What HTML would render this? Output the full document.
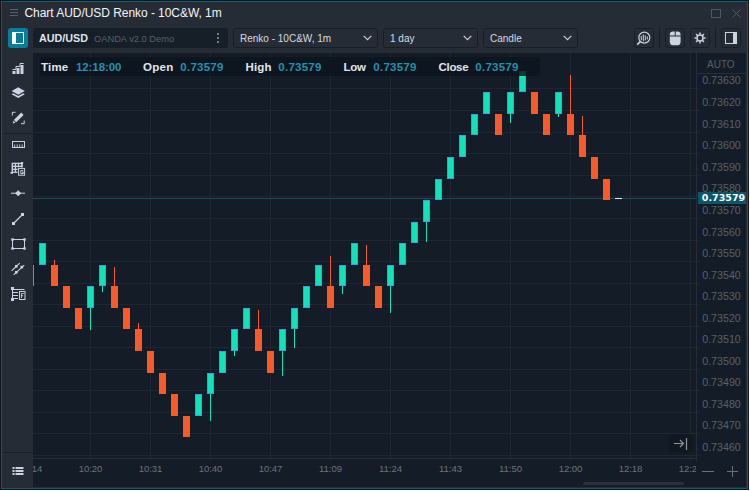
<!DOCTYPE html>
<html><head><meta charset="utf-8"><title>Chart AUD/USD Renko</title>
<style>
html,body{margin:0;padding:0;background:#fff;}
body{width:750px;height:491px;overflow:hidden;position:relative;font-family:"Liberation Sans",sans-serif;}
#win{position:absolute;left:0;top:0;width:749px;height:490px;background:#0f141a;}
#frame{position:absolute;left:1px;top:1px;width:747px;height:488px;background:#075f75;}
#panel{position:absolute;left:2px;top:2px;width:745px;height:486px;background:#262c35;}
.abs{position:absolute;}
#title{position:absolute;left:24.5px;top:4px;font-size:12px;line-height:18px;color:#f2f5f8;white-space:nowrap;letter-spacing:-0.05px;}
#chart{position:absolute;left:33px;top:53px;width:713px;height:434px;background:#141d27;overflow:hidden;}
#chartsvg{position:absolute;left:-33px;top:-53px;}
.pl{position:absolute;left:697px;width:49px;text-align:center;font-size:10.67px;line-height:14px;color:#596069;white-space:nowrap;}
#tlwrap{position:absolute;left:33px;top:459px;width:663px;height:22px;overflow:hidden;}
.tl{position:absolute;top:3px;width:40px;margin-left:-33px;text-align:center;font-size:9.6px;letter-spacing:-0.1px;line-height:14px;color:#6a727b;white-space:nowrap;}
.field{position:absolute;top:28px;height:20px;background:#161e28;border-radius:3px;}
.dd{position:absolute;top:28px;height:18px;border:1px solid #161e28;border-radius:3px;background:#262c35;font-size:10px;line-height:18px;color:#d4dae2;white-space:nowrap;}
.dd span{position:absolute;left:6px;top:1px;}
.btn{position:absolute;top:28px;width:18px;height:18px;border:1px solid #161e28;border-radius:3px;}
.sep{position:absolute;top:28px;width:1px;height:20px;background:#161e28;}
#info{position:absolute;left:40px;top:57px;width:500px;height:19px;background:rgba(12,20,29,0.82);border-radius:4px;}
.il{position:absolute;top:60px;font-size:11.5px;line-height:14px;font-weight:bold;color:#e0e6ec;white-space:nowrap;}
.iv{position:absolute;top:60px;font-size:11.5px;line-height:14px;font-weight:bold;color:#2590ac;white-space:nowrap;}
</style></head><body>
<div id="win"><div id="frame"></div><div id="panel"></div>

<!-- title bar -->
<svg class="abs" style="left:9px;top:8px" width="10" height="9"><path d="M1 1.5h8M1 4.5h8M1 7.5h8" stroke="#585f68" stroke-width="1"/></svg>
<div id="title">Chart AUD/USD Renko - 10C&amp;W, 1m</div>
<svg class="abs" style="left:710px;top:8px" width="32" height="11"><rect x="1.5" y="1.5" width="9" height="8" fill="none" stroke="#4f565f"/><path d="M22.5 1.5l8 8M30.5 1.5l-8 8" stroke="#535a63" stroke-width="1"/></svg>

<!-- toolbar -->
<div class="abs" style="left:8px;top:28px;width:20px;height:20px;background:#067f9c;border-radius:3px;"></div>
<svg class="abs" style="left:8px;top:28px" width="20" height="20"><rect x="4.5" y="4.5" width="11" height="11" fill="#077a9c" stroke="#fff"/><rect x="4" y="4" width="4" height="12" fill="#fff"/></svg>
<div class="field" style="left:33px;width:195px;"></div>
<div class="abs" style="left:39px;top:31px;font-size:10.75px;line-height:14px;font-weight:bold;color:#dfe5ec;white-space:nowrap;" id="sym">AUD/USD</div>
<div class="abs" style="left:94px;top:31.5px;font-size:9.3px;line-height:14px;color:#57606a;white-space:nowrap;" id="brk">OANDA v2.0 Demo</div>
<svg class="abs" style="left:217px;top:33px" width="2" height="11"><rect x="0" y="0" width="2" height="2" fill="#747b84"/><rect x="0" y="4" width="2" height="2" fill="#747b84"/><rect x="0" y="8" width="2" height="2" fill="#747b84"/></svg>

<div class="dd" style="left:233px;width:143px;"><span id="dd1">Renko - 10C&amp;W, 1m</span></div>
<div class="dd" style="left:383px;width:93px;"><span id="dd2">1 day</span></div>
<div class="dd" style="left:483px;width:93px;"><span id="dd3">Candle</span></div>
<svg class="abs" style="left:363px;top:35px" width="9" height="6"><path d="M0.7 0.8L4.5 4.6L8.3 0.8" fill="none" stroke="#c8d0d8" stroke-width="1.2"/></svg>
<svg class="abs" style="left:463px;top:35px" width="9" height="6"><path d="M0.7 0.8L4.5 4.6L8.3 0.8" fill="none" stroke="#c8d0d8" stroke-width="1.2"/></svg>
<svg class="abs" style="left:563px;top:35px" width="9" height="6"><path d="M0.7 0.8L4.5 4.6L8.3 0.8" fill="none" stroke="#c8d0d8" stroke-width="1.2"/></svg>

<div class="btn" style="left:634px;"></div>
<div class="sep" style="left:659px;"></div>
<div class="btn" style="left:665px;"></div>
<div class="btn" style="left:690px;"></div>
<div class="sep" style="left:715px;"></div>
<div class="btn" style="left:721px;"></div>

<svg class="abs" style="left:634px;top:28px" width="110" height="20" fill="#ccd4e2">
<!-- magnifier -->
<circle cx="10.3" cy="9.6" r="5.5" fill="none" stroke="#ccd4e2" stroke-width="1.2"/>
<path d="M6.2 13.6L3.2 16.6" stroke="#ccd4e2" stroke-width="1.6" fill="none"/>
<path d="M7.3 8v4M9.3 6.4v6.8M11.3 7.5v5M13.3 8.5v3" stroke="#ccd4e2" stroke-width="1" fill="none"/>
<!-- mouse -->
<path d="M35.8 7.4V6.7A3.4 3.2 0 0 1 39.2 3.5H40.7V7.4ZM41.7 3.5H43.2A3.4 3.2 0 0 1 46.6 6.7V7.4H41.7Z"/>
<path d="M35.8 8.5H46.6V13.4A3.9 3.9 0 0 1 42.7 17.3H39.7A3.9 3.9 0 0 1 35.8 13.4Z"/>
<!-- gear -->
<g transform="translate(66,10)">
<circle r="3" fill="none" stroke="#ccd4e2" stroke-width="1.5"/>
<g stroke="#ccd4e2" stroke-width="1.5" fill="none">
<path d="M0 -5.5v2M0 5.5v-2M-5.5 0h2M5.5 0h-2M-3.9 -3.9l1.4 1.4M3.9 3.9l-1.4 -1.4M-3.9 3.9l1.4 -1.4M3.9 -3.9l-1.4 1.4"/>
</g>
</g>
<!-- panel right -->
<rect x="91.5" y="4.5" width="11" height="11" fill="none" stroke="#ccd4e2" stroke-width="1"/>
<rect x="99" y="4" width="4" height="12"/>
</svg>


<!-- chart -->
<div id="chart"><svg id="chartsvg" width="749" height="490" shape-rendering="crispEdges">
<rect x="33" y="88" width="667" height="1" fill="#1e2731"/>
<rect x="33" y="110" width="667" height="1" fill="#1e2731"/>
<rect x="33" y="132" width="667" height="1" fill="#1e2731"/>
<rect x="33" y="153" width="667" height="1" fill="#1e2731"/>
<rect x="33" y="175" width="667" height="1" fill="#1e2731"/>
<rect x="33" y="196" width="667" height="1" fill="#1e2731"/>
<rect x="33" y="218" width="667" height="1" fill="#1e2731"/>
<rect x="33" y="240" width="667" height="1" fill="#1e2731"/>
<rect x="33" y="261" width="667" height="1" fill="#1e2731"/>
<rect x="33" y="283" width="667" height="1" fill="#1e2731"/>
<rect x="33" y="304" width="667" height="1" fill="#1e2731"/>
<rect x="33" y="326" width="667" height="1" fill="#1e2731"/>
<rect x="33" y="347" width="667" height="1" fill="#1e2731"/>
<rect x="33" y="369" width="667" height="1" fill="#1e2731"/>
<rect x="33" y="390" width="667" height="1" fill="#1e2731"/>
<rect x="33" y="412" width="667" height="1" fill="#1e2731"/>
<rect x="33" y="433" width="667" height="1" fill="#1e2731"/>
<rect x="33" y="455" width="667" height="1" fill="#1e2731"/>
<line x1="90.5" y1="53" x2="90.5" y2="461" stroke="#1e2731"/>
<line x1="150.5" y1="53" x2="150.5" y2="461" stroke="#1e2731"/>
<line x1="210.5" y1="53" x2="210.5" y2="461" stroke="#1e2731"/>
<line x1="270.5" y1="53" x2="270.5" y2="461" stroke="#1e2731"/>
<line x1="330.5" y1="53" x2="330.5" y2="461" stroke="#1e2731"/>
<line x1="390.5" y1="53" x2="390.5" y2="461" stroke="#1e2731"/>
<line x1="450.5" y1="53" x2="450.5" y2="461" stroke="#1e2731"/>
<line x1="510.5" y1="53" x2="510.5" y2="461" stroke="#1e2731"/>
<line x1="570.5" y1="53" x2="570.5" y2="461" stroke="#1e2731"/>
<line x1="630.5" y1="53" x2="630.5" y2="461" stroke="#1e2731"/>
<line x1="690.5" y1="53" x2="690.5" y2="461" stroke="#1e2731"/>
<line x1="696.5" y1="53" x2="696.5" y2="461" stroke="#242d38"/>
<line x1="33" y1="458.5" x2="696.5" y2="458.5" stroke="#242d38"/>
<line x1="696.5" y1="73.5" x2="746" y2="73.5" stroke="#242d38"/>
<rect x="33" y="198" width="663" height="1" fill="#1a4d54"/>
<rect x="27" y="265" width="7" height="21" fill="#3a9fe8"/>
<rect x="28" y="266" width="5" height="19" fill="#12e2b8"/>
<rect x="39" y="243" width="7" height="22" fill="#3a9fe8"/>
<rect x="40" y="244" width="5" height="20" fill="#12e2b8"/>
<rect x="54.0" y="260" width="1" height="5" fill="#fa5a28"/>
<rect x="51" y="265" width="7" height="21" fill="#fa5a28"/>
<rect x="63" y="286" width="7" height="22" fill="#fa5a28"/>
<rect x="75" y="308" width="7" height="21" fill="#fa5a28"/>
<rect x="90.0" y="308" width="1" height="22" fill="#12e2b8"/>
<rect x="87" y="286" width="7" height="22" fill="#3a9fe8"/>
<rect x="88" y="287" width="5" height="20" fill="#12e2b8"/>
<rect x="102.0" y="286" width="1" height="6" fill="#12e2b8"/>
<rect x="99" y="265" width="7" height="21" fill="#3a9fe8"/>
<rect x="100" y="266" width="5" height="19" fill="#12e2b8"/>
<rect x="114.0" y="267" width="1" height="19" fill="#fa5a28"/>
<rect x="111" y="286" width="7" height="22" fill="#fa5a28"/>
<rect x="123" y="308" width="7" height="21" fill="#fa5a28"/>
<rect x="138.0" y="323" width="1" height="6" fill="#fa5a28"/>
<rect x="135" y="329" width="7" height="22" fill="#fa5a28"/>
<rect x="147" y="351" width="7" height="22" fill="#fa5a28"/>
<rect x="159" y="373" width="7" height="21" fill="#fa5a28"/>
<rect x="171" y="394" width="7" height="22" fill="#fa5a28"/>
<rect x="183" y="416" width="7" height="21" fill="#fa5a28"/>
<rect x="195" y="394" width="7" height="22" fill="#3a9fe8"/>
<rect x="196" y="395" width="5" height="20" fill="#12e2b8"/>
<rect x="210.0" y="394" width="1" height="27" fill="#12e2b8"/>
<rect x="207" y="373" width="7" height="21" fill="#3a9fe8"/>
<rect x="208" y="374" width="5" height="19" fill="#12e2b8"/>
<rect x="219" y="351" width="7" height="22" fill="#3a9fe8"/>
<rect x="220" y="352" width="5" height="20" fill="#12e2b8"/>
<rect x="234.0" y="351" width="1" height="5" fill="#12e2b8"/>
<rect x="231" y="329" width="7" height="22" fill="#3a9fe8"/>
<rect x="232" y="330" width="5" height="20" fill="#12e2b8"/>
<rect x="243" y="308" width="7" height="21" fill="#3a9fe8"/>
<rect x="244" y="309" width="5" height="19" fill="#12e2b8"/>
<rect x="258.0" y="310" width="1" height="19" fill="#fa5a28"/>
<rect x="255" y="329" width="7" height="22" fill="#fa5a28"/>
<rect x="267" y="351" width="7" height="22" fill="#fa5a28"/>
<rect x="282.0" y="351" width="1" height="25" fill="#12e2b8"/>
<rect x="279" y="329" width="7" height="22" fill="#3a9fe8"/>
<rect x="280" y="330" width="5" height="20" fill="#12e2b8"/>
<rect x="294.0" y="329" width="1" height="19" fill="#12e2b8"/>
<rect x="291" y="308" width="7" height="21" fill="#3a9fe8"/>
<rect x="292" y="309" width="5" height="19" fill="#12e2b8"/>
<rect x="303" y="286" width="7" height="22" fill="#3a9fe8"/>
<rect x="304" y="287" width="5" height="20" fill="#12e2b8"/>
<rect x="315" y="265" width="7" height="21" fill="#3a9fe8"/>
<rect x="316" y="266" width="5" height="19" fill="#12e2b8"/>
<rect x="330.0" y="256" width="1" height="30" fill="#fa5a28"/>
<rect x="327" y="286" width="7" height="22" fill="#fa5a28"/>
<rect x="342.0" y="286" width="1" height="8" fill="#12e2b8"/>
<rect x="339" y="265" width="7" height="21" fill="#3a9fe8"/>
<rect x="340" y="266" width="5" height="19" fill="#12e2b8"/>
<rect x="351" y="243" width="7" height="22" fill="#3a9fe8"/>
<rect x="352" y="244" width="5" height="20" fill="#12e2b8"/>
<rect x="366.0" y="245" width="1" height="20" fill="#fa5a28"/>
<rect x="363" y="265" width="7" height="21" fill="#fa5a28"/>
<rect x="375" y="286" width="7" height="22" fill="#fa5a28"/>
<rect x="390.0" y="286" width="1" height="27" fill="#12e2b8"/>
<rect x="387" y="265" width="7" height="21" fill="#3a9fe8"/>
<rect x="388" y="266" width="5" height="19" fill="#12e2b8"/>
<rect x="399" y="243" width="7" height="22" fill="#3a9fe8"/>
<rect x="400" y="244" width="5" height="20" fill="#12e2b8"/>
<rect x="411" y="222" width="7" height="21" fill="#3a9fe8"/>
<rect x="412" y="223" width="5" height="19" fill="#12e2b8"/>
<rect x="426.0" y="222" width="1" height="20" fill="#12e2b8"/>
<rect x="423" y="200" width="7" height="22" fill="#3a9fe8"/>
<rect x="424" y="201" width="5" height="20" fill="#12e2b8"/>
<rect x="435" y="179" width="7" height="21" fill="#3a9fe8"/>
<rect x="436" y="180" width="5" height="19" fill="#12e2b8"/>
<rect x="447" y="157" width="7" height="22" fill="#3a9fe8"/>
<rect x="448" y="158" width="5" height="20" fill="#12e2b8"/>
<rect x="459" y="135" width="7" height="22" fill="#3a9fe8"/>
<rect x="460" y="136" width="5" height="20" fill="#12e2b8"/>
<rect x="471" y="114" width="7" height="21" fill="#3a9fe8"/>
<rect x="472" y="115" width="5" height="19" fill="#12e2b8"/>
<rect x="483" y="92" width="7" height="22" fill="#3a9fe8"/>
<rect x="484" y="93" width="5" height="20" fill="#12e2b8"/>
<rect x="495" y="114" width="7" height="21" fill="#fa5a28"/>
<rect x="510.0" y="114" width="1" height="9" fill="#12e2b8"/>
<rect x="507" y="92" width="7" height="22" fill="#3a9fe8"/>
<rect x="508" y="93" width="5" height="20" fill="#12e2b8"/>
<rect x="519" y="71" width="7" height="21" fill="#3a9fe8"/>
<rect x="520" y="72" width="5" height="19" fill="#12e2b8"/>
<rect x="531" y="92" width="7" height="22" fill="#fa5a28"/>
<rect x="543" y="114" width="7" height="21" fill="#fa5a28"/>
<rect x="558.0" y="114" width="1" height="3" fill="#12e2b8"/>
<rect x="555" y="92" width="7" height="22" fill="#3a9fe8"/>
<rect x="556" y="93" width="5" height="20" fill="#12e2b8"/>
<rect x="570.0" y="75" width="1" height="39" fill="#fa5a28"/>
<rect x="567" y="114" width="7" height="21" fill="#fa5a28"/>
<rect x="582.0" y="116" width="1" height="19" fill="#fa5a28"/>
<rect x="579" y="135" width="7" height="22" fill="#fa5a28"/>
<rect x="591" y="157" width="7" height="22" fill="#fa5a28"/>
<rect x="603" y="179" width="7" height="21" fill="#fa5a28"/>
<rect x="615" y="198" width="7" height="1" fill="#e8ecf0"/>
</svg></div>
<div id="info"></div>
<div class="il" style="left:41px;letter-spacing:0.2px" id="l1">Time</div><div class="iv" style="left:76px;letter-spacing:-0.09px" id="v1">12:18:00</div>
<div class="il" style="left:143px;letter-spacing:0.28px" id="l2">Open</div><div class="iv" style="left:180.3px;letter-spacing:0.26px" id="v2">0.73579</div>
<div class="il" style="left:245.5px;letter-spacing:0.12px" id="l3">High</div><div class="iv" style="left:278.3px;letter-spacing:0.26px" id="v3">0.73579</div>
<div class="il" style="left:343.5px;letter-spacing:-0.23px" id="l4">Low</div><div class="iv" style="left:373.3px;letter-spacing:0.26px" id="v4">0.73579</div>
<div class="il" style="left:438.5px;letter-spacing:-0.3px" id="l5">Close</div><div class="iv" style="left:475.3px;letter-spacing:0.26px" id="v5">0.73579</div>

<!-- price axis -->
<div class="pl" style="top:58px;left:696.3px;font-size:10px;color:#565e67" id="auto">AUTO</div>
<div class="pl" style="top:73px">0.73630</div>
<div class="pl" style="top:95px">0.73620</div>
<div class="pl" style="top:117px">0.73610</div>
<div class="pl" style="top:138px">0.73600</div>
<div class="pl" style="top:160px">0.73590</div>
<div class="pl" style="top:181px">0.73580</div>
<div class="pl" style="top:203px">0.73570</div>
<div class="pl" style="top:225px">0.73560</div>
<div class="pl" style="top:246px">0.73550</div>
<div class="pl" style="top:268px">0.73540</div>
<div class="pl" style="top:289px">0.73530</div>
<div class="pl" style="top:311px">0.73520</div>
<div class="pl" style="top:332px">0.73510</div>
<div class="pl" style="top:354px">0.73500</div>
<div class="pl" style="top:375px">0.73490</div>
<div class="pl" style="top:397px">0.73480</div>
<div class="pl" style="top:418px">0.73470</div>
<div class="pl" style="top:440px">0.73460</div>
<div class="abs" style="left:698px;top:192px;width:48px;height:12px;background:#0b566b;"></div>
<div class="abs" id="cur" style="left:699.5px;top:191px;width:48px;text-align:center;font-size:9.5px;line-height:14px;font-weight:bold;color:#fff;font-family:'DejaVu Sans','Liberation Sans',sans-serif;white-space:nowrap;">0.73579</div>

<!-- time axis -->
<div id="tlwrap">
<div class="tl" style="left:10.5px">10:14</div>
<div class="tl" style="left:70.5px">10:20</div>
<div class="tl" style="left:130.5px">10:31</div>
<div class="tl" style="left:190.5px">10:40</div>
<div class="tl" style="left:250.5px">10:47</div>
<div class="tl" style="left:310.5px">11:09</div>
<div class="tl" style="left:370.5px">11:24</div>
<div class="tl" style="left:430.5px">11:43</div>
<div class="tl" style="left:490.5px">11:50</div>
<div class="tl" style="left:550.5px">12:00</div>
<div class="tl" style="left:610.5px">12:18</div>
<div class="tl" style="left:670.5px">12:24</div>
</div>
<svg class="abs" style="left:700px;top:465px" width="40" height="14"><path d="M2 6.5h12M27 6.5h11M32.5 1v11" stroke="#6a727b" stroke-width="1" fill="none"/></svg>
<div class="abs" style="left:583px;top:482px;width:101px;height:3px;background:#2a313a;border-radius:2px;"></div>
<div class="abs" style="left:669px;top:434px;width:24px;height:19px;background:#11181f;border-radius:4px;"></div>
<svg class="abs" style="left:669px;top:434px" width="24" height="19"><path d="M5 9.5h9M11 6l3.5 3.5L11 13M17.5 4v12" stroke="#8d949c" stroke-width="1.2" fill="none"/></svg>

<!-- left sidebar -->
<div class="abs" style="left:3px;top:133px;width:30px;height:1px;background:#171f29;"></div>
<div class="abs" style="left:3px;top:452px;width:30px;height:1px;background:#171f29;"></div>

<svg class="abs" style="left:0;top:0" width="34" height="490" fill="#ccd4e2" stroke="none">
<!-- bars -->
<rect x="12.5" y="71" width="3" height="3"/><rect x="16.5" y="68" width="3" height="6"/><rect x="20.5" y="65" width="3" height="9"/>
<path d="M12.5 69.5H16V66.5H20V63.5H23.7" fill="none" stroke="#ccd4e2" stroke-width="1"/>
<!-- layers -->
<path d="M18.2 87.3L24.8 91L18.2 94.7L11.6 91Z"/>
<path d="M11.6 94.2L18.2 97.9L24.8 94.2L23.3 93.3L18.2 96.1L13.1 93.3Z"/>
<!-- pencil w/ brackets -->
<path d="M12.3 115.5v-3.2h3.2M24.2 120.5v3.2h-3.2" fill="none" stroke="#ccd4e2" stroke-width="1"/>
<path d="M21.3 112.6L23.6 114.9L16.2 122.3L13.9 120Z"/>
<path d="M13.4 120.7L15.5 122.8L12.8 123.4Z"/>
<!-- ruler -->
<rect x="12.5" y="141.5" width="12" height="6" fill="none" stroke="#ccd4e2" stroke-width="1"/>
<path d="M14.7 147v-2.6M17.2 147v-2.6M19.7 147v-2.6M22.2 147v-2.6" stroke="#ccd4e2" stroke-width="0.9" fill="none"/>
<!-- grid G -->
<rect x="11.6" y="162.7" width="11.2" height="10.2"/>
<rect x="13.0" y="164.0" width="1.8" height="1.7" fill="#262c35"/><rect x="13.0" y="167.0" width="1.8" height="1.7" fill="#262c35"/><rect x="13.0" y="170.0" width="1.8" height="1.7" fill="#262c35"/><rect x="16.1" y="164.0" width="1.8" height="1.7" fill="#262c35"/><rect x="16.1" y="167.0" width="1.8" height="1.7" fill="#262c35"/><rect x="16.1" y="170.0" width="1.8" height="1.7" fill="#262c35"/><rect x="19.1" y="164.0" width="1.8" height="1.7" fill="#262c35"/><rect x="19.1" y="167.0" width="1.8" height="1.7" fill="#262c35"/><rect x="19.1" y="170.0" width="1.8" height="1.7" fill="#262c35"/>
<rect x="10.5" y="172" width="2.4" height="1.8"/><rect x="21" y="162" width="2.2" height="1.7"/>
<rect x="17.6" y="167.4" width="7.6" height="8.4" fill="#262c35"/>
<rect x="18.6" y="168.4" width="6" height="6.8" fill="none" stroke="#ccd4e2" stroke-width="1"/>
<path d="M23.3 170.6h-2.5v3h2.5v-1.5h-1.2" fill="none" stroke="#ccd4e2" stroke-width="1"/>
<!-- hline diamond -->
<rect x="11" y="192.7" width="14" height="1"/>
<path d="M18.2 190.2L21.2 193.2L18.2 196.2L15.2 193.2Z"/>
<!-- line with endpoints -->
<path d="M13.5 223.5L22.5 214.5" stroke="#ccd4e2" stroke-width="1.2" fill="none"/>
<rect x="12" y="222" width="3" height="3"/><rect x="21" y="213" width="3" height="3"/>
<!-- rect -->
<rect x="12.5" y="239.5" width="12" height="9" fill="none" stroke="#ccd4e2" stroke-width="1"/>
<rect x="11.3" y="238.3" width="2.4" height="2.4"/><rect x="23.3" y="238.3" width="2.4" height="2.4"/><rect x="11.3" y="247.3" width="2.4" height="2.4"/><rect x="23.3" y="247.3" width="2.4" height="2.4"/>
<!-- channel -->
<path d="M11.6 270.8L19.7 263.1M13.6 274.8L24.3 265.2" stroke="#ccd4e2" stroke-width="1.1" fill="none"/>
<rect x="15" y="265" width="2.6" height="2.6"/><rect x="15" y="271" width="2.6" height="2.6"/><rect x="20.5" y="265.8" width="2.6" height="2.6"/>
<!-- fib -->
<rect x="11" y="287" width="3" height="3"/><rect x="11" y="298" width="3" height="3"/>
<path d="M12.5 289v10M13 289.5h11.5M13 292.5h5M13 295.5h5M13 298.5h5" stroke="#ccd4e2" stroke-width="1" fill="none"/>
<rect x="19.5" y="291.5" width="5.5" height="8" fill="none" stroke="#ccd4e2" stroke-width="1"/>
<path d="M21.5 298v-4.5h2.2M21.5 295.7h1.6" stroke="#ccd4e2" stroke-width="0.9" fill="none"/>
<!-- list -->
<rect x="12.5" y="467" width="2" height="2"/><rect x="15.5" y="467" width="8" height="2"/>
<rect x="12.5" y="470" width="2" height="2"/><rect x="15.5" y="470" width="8" height="2"/>
<rect x="12.5" y="473" width="2" height="2"/><rect x="15.5" y="473" width="8" height="2"/>
</svg>


</div>
</body></html>
